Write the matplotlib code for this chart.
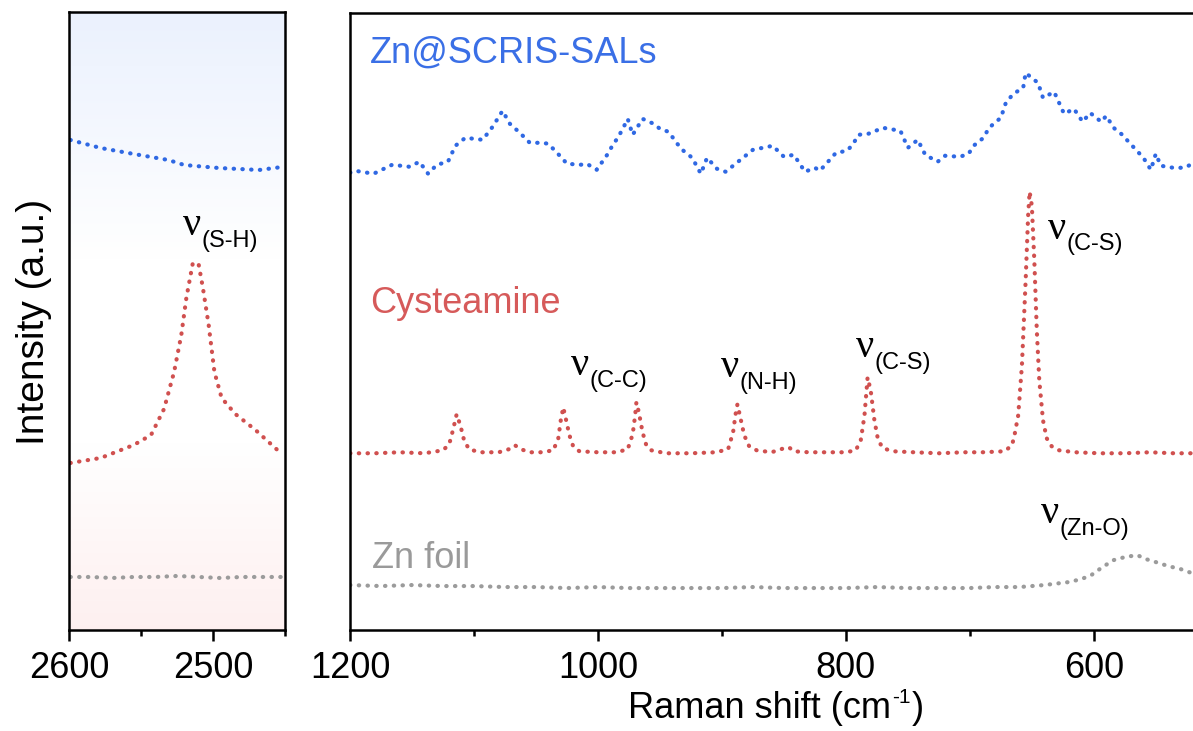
import numpy as np
import matplotlib.pyplot as plt
from matplotlib.ticker import MultipleLocator

plt.rcParams['font.family'] = ['Liberation Sans', 'DejaVu Sans']

BLUE = '#2f68e3'
RED = '#d0504f'
GRAY = '#9b9b9b'

# ---- S-H region (2600-2450 cm-1) ----
hi_sal_x = [2599, 2578, 2555, 2531, 2520, 2496, 2468, 2452]
hi_sal_y = [490, 482, 476, 470, 465, 462, 460, 463]

hi_cys_x = [2599, 2578, 2555, 2543, 2534, 2527, 2522, 2518.5, 2514, 2510, 2507,
            2503, 2499, 2494, 2484.5, 2470.5, 2453]
hi_cys_y = [167, 172, 185, 195, 221, 258, 295, 332, 367, 366, 342,
            305, 258, 232, 216, 200, 177]

hi_foil_x = [2599, 2585, 2570, 2555, 2540, 2525, 2510, 2495, 2480, 2465, 2452]
hi_foil_y = [53, 53, 52, 53, 53, 54, 53, 52, 53, 53, 53]

# ---- fingerprint region (1200-520 cm-1) ----
sal_x = [1200, 1196, 1181, 1166, 1152, 1144, 1137, 1130, 1121, 1115, 1107, 1093,
         1085, 1077, 1071, 1063, 1055, 1045, 1040, 1030, 1025, 1014, 1009, 1001,
         992, 988, 984, 980, 976, 972, 964, 955, 950, 943, 936, 931, 924, 917,
         912, 904, 897, 888, 875, 859, 850, 842, 833, 825, 821, 813, 808, 799,
         794, 790, 782, 770, 756, 750, 742, 736, 726, 720, 708, 701, 697, 689,
         685, 681, 675, 671, 665, 657, 655, 645, 641, 632, 624, 616, 609, 603,
         594, 590, 584, 577, 572, 566, 560, 554, 550, 546, 536, 527, 522]
sal_y = [458, 460, 457, 466, 464, 469, 457, 466, 469, 485, 493, 491,
         504, 520, 507, 498, 488, 488, 487, 474, 467, 466, 467, 461,
         477, 486, 493, 502, 512, 496, 512, 507, 502, 499, 487, 480, 473, 457,
         473, 462, 459, 468, 481, 485, 474, 476, 459, 463, 460, 471, 478, 480,
         487, 496, 497, 503, 500, 483, 491, 476, 469, 475, 474, 477, 485, 493,
         502, 507, 513, 528, 537, 543, 558, 548, 533, 539, 517, 522, 509, 518,
         509, 515, 503, 496, 489, 481, 473, 461, 477, 465, 463, 463, 466]

cys_x = [1200, 1180, 1160, 1140, 1125, 1120, 1117, 1114, 1111, 1108, 1104, 1095,
         1080, 1072, 1067, 1062, 1055, 1045, 1036, 1032, 1030, 1028, 1026, 1023,
         1020, 1015, 1000, 985, 976, 972, 970, 969, 967, 964, 961, 957, 945,
         925, 905, 895, 891, 889, 887.5, 885, 882, 878, 872, 860, 850, 846, 842,
         830, 815, 800, 792, 788, 785, 782.5, 780, 777, 774, 770, 762, 745, 725,
         705, 690, 672, 666, 664, 661, 658, 655, 653, 651.8, 650, 648, 646, 644,
         641, 638, 634, 628, 615, 595, 575, 555, 535, 520]
cys_y = [177, 177, 178, 177, 180, 186, 200, 216, 205, 190, 181, 178,
         178, 181, 185, 181, 178, 178, 180, 192, 210, 223, 212, 195,
         184, 179, 178, 178, 181, 196, 215, 228, 218, 198, 185, 180, 177,
         177, 178, 181, 198, 216, 226, 212, 195, 184, 180, 178, 182, 183, 179,
         178, 178, 178, 180, 190, 215, 253, 240, 210, 190, 182, 179, 178, 177,
         178, 178, 179, 185, 195, 215, 265, 350, 415, 439, 425, 370, 300, 250,
         210, 192, 184, 180, 178, 177, 177, 178, 177, 177]

foil_x = [1200, 1175, 1150, 1125, 1100, 1075, 1050, 1025, 1000, 975, 950, 925,
          900, 875, 850, 825, 800, 775, 750, 725, 700, 680, 660, 640, 620, 610,
          602, 593, 584, 575, 565, 558, 550, 540, 530, 521]
foil_y = [45, 44, 45, 44, 44, 43, 43, 42, 43, 42, 42, 42,
          42, 43, 42, 42, 42, 43, 42, 42, 42, 43, 43, 45, 48, 51,
          55, 63, 70, 73, 75, 71, 68, 64, 61, 57]

# (label, x, y) for the band assignments
hi_bands = [('(S-H)', 2521, 395)]
bands = [('(C-C)', 1022, 255), ('(N-H)', 901, 253), ('(C-S)', 792, 273),
         ('(C-S)', 637, 392), ('(Zn-O)', 643, 107)]

dot = dict(linewidth=3.0, linestyle=(0, (0.1, 2.0)), dash_capstyle='round')

fig = plt.figure(figsize=(11.93, 7.31), dpi=100)
ax1 = fig.add_axes([0.0578, 0.1382, 0.1811, 0.8454])
ax2 = fig.add_axes([0.2934, 0.1382, 0.7066, 0.8440])

# soft blue-to-pink backdrop for the narrow panel
grad = np.ones((256, 1, 3))
t = np.linspace(0, 1, 256)
top = np.array([0.92, 0.945, 0.995])
bot = np.array([0.995, 0.94, 0.94])
wt = np.clip(1 - t / 0.4, 0, 1)
wb = np.clip((t - 0.7) / 0.3, 0, 1)
for c in range(3):
    grad[:, 0, c] = 1 - wt * (1 - top[c]) - wb * (1 - bot[c])
ax1.imshow(grad, extent=[0, 1, 0, 1], transform=ax1.transAxes,
           aspect='auto', zorder=0)

ax1.plot(hi_sal_x, hi_sal_y, color=BLUE, **dot)
ax1.plot(hi_cys_x, hi_cys_y, color=RED, **dot)
ax1.plot(hi_foil_x, hi_foil_y, color=GRAY, **dot)

ax2.plot(sal_x, sal_y, color=BLUE, **dot)
ax2.plot(cys_x, cys_y, color=RED, **dot)
ax2.plot(foil_x, foil_y, color=GRAY, **dot)

ax1.set_xlim(2600, 2450)
ax2.set_xlim(1200, 520)
for ax in (ax1, ax2):
    ax.set_ylim(0, 618)
    ax.set_yticks([])
    ax.tick_params(axis='x', which='major', direction='out', length=8,
                   width=1.8, labelsize=26, pad=7)
    ax.tick_params(axis='x', which='minor', direction='out', length=4,
                   width=1.8)
    for s in ax.spines.values():
        s.set_linewidth(1.8)
ax1.xaxis.set_major_locator(MultipleLocator(100))
ax1.xaxis.set_minor_locator(MultipleLocator(50))
ax2.xaxis.set_major_locator(MultipleLocator(200))
ax2.xaxis.set_minor_locator(MultipleLocator(100))
ax2.spines['right'].set_visible(False)


def band(ax, sub, x, y):
    ax.text(x, y, 'ν', family='Liberation Serif', fontsize=29,
            ha='left', va='baseline')
    ax.annotate(sub, xy=(x, y), xytext=(13.5, -8.5), textcoords='offset points',
                fontsize=17, ha='left', va='baseline')


for sub, x, y in hi_bands:
    band(ax1, sub, x, y)
for sub, x, y in bands:
    band(ax2, sub, x, y)

ax2.text(1184, 568, 'Zn@SCRIS-SALs', color='#3a6fe6', fontsize=26,
         ha='left', va='baseline')
ax2.text(1184, 318, 'Cysteamine', color='#d65a5a', fontsize=26,
         ha='left', va='baseline')
ax2.text(1182, 62, 'Zn foil', color='#9a9a9a', fontsize=26,
         ha='left', va='baseline')

fig.text(0.0285, 0.5595, 'Intensity (a.u.)', rotation=90, fontsize=28,
         ha='center', va='center')

# x label with a plain-hyphen superscript, laid out piece by piece
renderer = fig.canvas.get_renderer()
W, H = fig.bbox.width, fig.bbox.height
xl = fig.text(0.526, 0.018, 'Raman shift (cm', fontsize=26,
              ha='left', va='baseline')
bb = xl.get_window_extent(renderer)
sup = fig.text(bb.x1 / W + 0.001, 0.018 + 15 / H, '-1', fontsize=15,
               ha='left', va='baseline')
sb = sup.get_window_extent(renderer)
fig.text(sb.x1 / W + 0.001, 0.018, ')', fontsize=26,
         ha='left', va='baseline')

fig.savefig('out.png', dpi=100)
